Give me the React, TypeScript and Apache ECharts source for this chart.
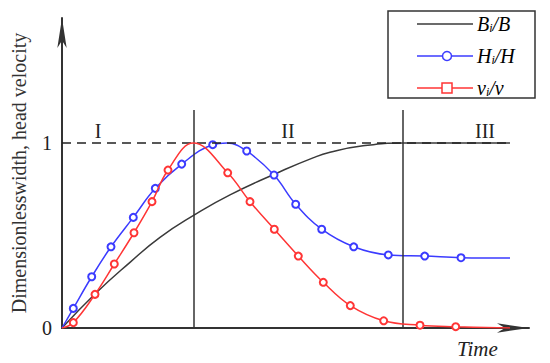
import React, { useEffect, useRef } from "react";
import * as echarts from "echarts";

// Time (arbitrary units) and dimensionless values
const blueMarkers: number[][] = [
  [0.113, 0.106], [0.297, 0.277], [0.49, 0.439], [0.713, 0.598], [0.933, 0.755],
  [1.197, 0.886], [1.507, 0.991], [1.847, 0.957], [2.12, 0.827], [2.337, 0.669],
  [2.597, 0.534], [2.917, 0.439], [3.263, 0.395], [3.627, 0.389], [3.99, 0.38],
];
const blueCurveOnly: number[][] = [[0, 0], [1.65, 1.0], [4.48, 0.378]];

const redMarkers: number[][] = [
  [0.113, 0.029], [0.33, 0.182], [0.523, 0.346], [0.72, 0.515], [0.9, 0.683],
  [1.06, 0.854], [1.657, 0.839], [1.88, 0.683], [2.123, 0.534], [2.363, 0.389],
  [2.613, 0.247], [2.883, 0.121], [3.217, 0.039], [3.58, 0.015], [3.937, 0.007],
];
const redCurveOnly: number[][] = [[0, 0], [1.313, 1.0], [4.48, 0.0]];

const blackCurve: number[][] = [
  [0, 0], [0.33, 0.184], [0.68, 0.355], [0.98, 0.49], [1.32, 0.61], [1.68, 0.72],
  [2.18, 0.845], [2.51, 0.92], [2.68, 0.95], [3.01, 0.985], [3.41, 1.0], [3.9, 1.0], [4.48, 1.0],
];

const phaseBounds: number[] = [1.32, 3.41];
const phaseTop = 1.178;
const refLevel = 1;
const refEnd = 4.48;
const yTicks: number[] = [0, 1];
const regionLabels: string[] = ["I", "II", "III"];

const BLUE = "#3b3bff";
const RED = "#ff3535";
const BLACK = "#3a3a3a";
const SERIF = "'Liberation Serif', 'Times New Roman', serif";

function buildCurve(markers: number[][], extra: number[][]) {
  const all = [
    ...markers.map((p) => ({ value: p })),
    ...extra.map((p) => ({ value: p, symbol: "none" })),
  ];
  all.sort((a, b) => a.value[0] - b.value[0]);
  return all;
}

export default function App() {
  const ref = useRef<HTMLDivElement>(null);
  useEffect(() => {
    if (!ref.current) return;
    const chart = echarts.init(ref.current, undefined, { renderer: "svg" });
    const rich = {
      b: { fontFamily: SERIF, fontStyle: "italic", fontSize: 20, color: "#222" },
      s: { fontFamily: SERIF, fontStyle: "italic", fontSize: 12, color: "#222", verticalAlign: "bottom", lineHeight: 14 },
    };
    const legendRows = [
      { y: 24, color: BLACK, mark: "none", text: "{b|B}{s|i}{b|/B}" },
      { y: 56, color: BLUE, mark: "circle", text: "{b|H}{s|i}{b|/H}" },
      { y: 88, color: RED, mark: "rect", text: "{b|v}{s|i}{b|/v}" },
    ];
    const legendGraphics: any[] = [
      { type: "rect", shape: { x: 388, y: 11, width: 147, height: 87 }, style: { fill: "#fff", stroke: "#333", lineWidth: 1.5 }, z: 10 },
    ];
    legendRows.forEach((r) => {
      legendGraphics.push({ type: "line", shape: { x1: 417, y1: r.y, x2: 473, y2: r.y }, style: { stroke: r.color, lineWidth: 1.5 }, z: 11 });
      if (r.mark === "circle") {
        legendGraphics.push({ type: "circle", shape: { cx: 447, cy: r.y, r: 4.5 }, style: { fill: "#fff", stroke: r.color, lineWidth: 1.5 }, z: 12 });
      } else if (r.mark === "rect") {
        legendGraphics.push({ type: "rect", shape: { x: 442, y: r.y - 5, width: 10, height: 10 }, style: { fill: "#fff", stroke: r.color, lineWidth: 1.5 }, z: 12 });
      }
      legendGraphics.push({ type: "text", x: 477, y: r.y, style: { text: r.text, rich, verticalAlign: "middle", align: "left" }, z: 12 });
    });
    const regionPos = [[98, 131], [288, 131], [485, 131]];
    const regionGraphics = regionLabels.map((t, i) => ({
      type: "text", x: regionPos[i][0], y: regionPos[i][1],
      style: { text: t, font: `20px ${SERIF}`, fill: "#222", align: "center", verticalAlign: "middle" },
    }));

    chart.setOption({
      animation: false,
      backgroundColor: "#fff",
      grid: { left: 62, right: 21, top: 18, bottom: 35, containLabel: false },
      xAxis: {
        type: "value", min: 0, max: 4.67,
        axisLine: { show: true, symbol: ["none", "arrow"], symbolSize: [7, 32], lineStyle: { color: "#333", width: 2 } },
        axisTick: { show: false }, axisLabel: { show: false }, splitLine: { show: false },
      },
      yAxis: {
        type: "value", min: 0, max: 1.676, interval: 1,
        name: "Dimensionlesswidth, head velocity",
        nameLocation: "middle", nameGap: 33,
        nameTextStyle: { fontFamily: SERIF, fontSize: 20, color: "#333" },
        axisLine: { show: true, symbol: ["none", "arrow"], symbolSize: [7, 30], lineStyle: { color: "#333", width: 2 } },
        axisTick: { show: false }, splitLine: { show: false },
        axisLabel: {
          fontFamily: SERIF, fontSize: 20, color: "#222", margin: 10,
          formatter: (v: number) => (yTicks.includes(v) ? String(v) : ""),
        },
      },
      series: [
        {
          name: "Bi/B", type: "line", smooth: 0.5, symbol: "none",
          data: blackCurve, lineStyle: { color: BLACK, width: 1.5 }, z: 3,
          markLine: {
            silent: true, symbol: ["none", "none"], label: { show: false },
            data: [
              [{ coord: [0, refLevel], lineStyle: { type: [9, 6], color: "#222", width: 1.5 } }, { coord: [refEnd, refLevel] }],
              ...phaseBounds.map((b) => [
                { coord: [b, 0], lineStyle: { type: "solid", color: "#333", width: 1.5 } },
                { coord: [b, phaseTop] },
              ]),
            ],
          },
        },
        {
          name: "Hi/H", type: "line", smooth: 0.4, symbol: "emptyCircle", symbolSize: 7,
          data: buildCurve(blueMarkers, blueCurveOnly),
          itemStyle: { color: BLUE, borderWidth: 1.5 }, lineStyle: { color: BLUE, width: 1.5 }, z: 4,
        },
        {
          name: "vi/v", type: "line", smooth: 0.4, symbol: "emptyCircle", symbolSize: 7,
          data: buildCurve(redMarkers, redCurveOnly),
          itemStyle: { color: RED, borderWidth: 1.5 }, lineStyle: { color: RED, width: 1.5 }, z: 5,
        },
      ],
      graphic: [
        ...legendGraphics,
        ...regionGraphics,
        { type: "text", x: 457, y: 349, style: { text: "Time", font: `italic 21px ${SERIF}`, fill: "#222", align: "left", verticalAlign: "middle" } },
      ],
    });
    return () => chart.dispose();
  }, []);
  return <div ref={ref} style={{ width: 550, height: 363, position: "absolute", left: 0, top: 0 }} />;
}
